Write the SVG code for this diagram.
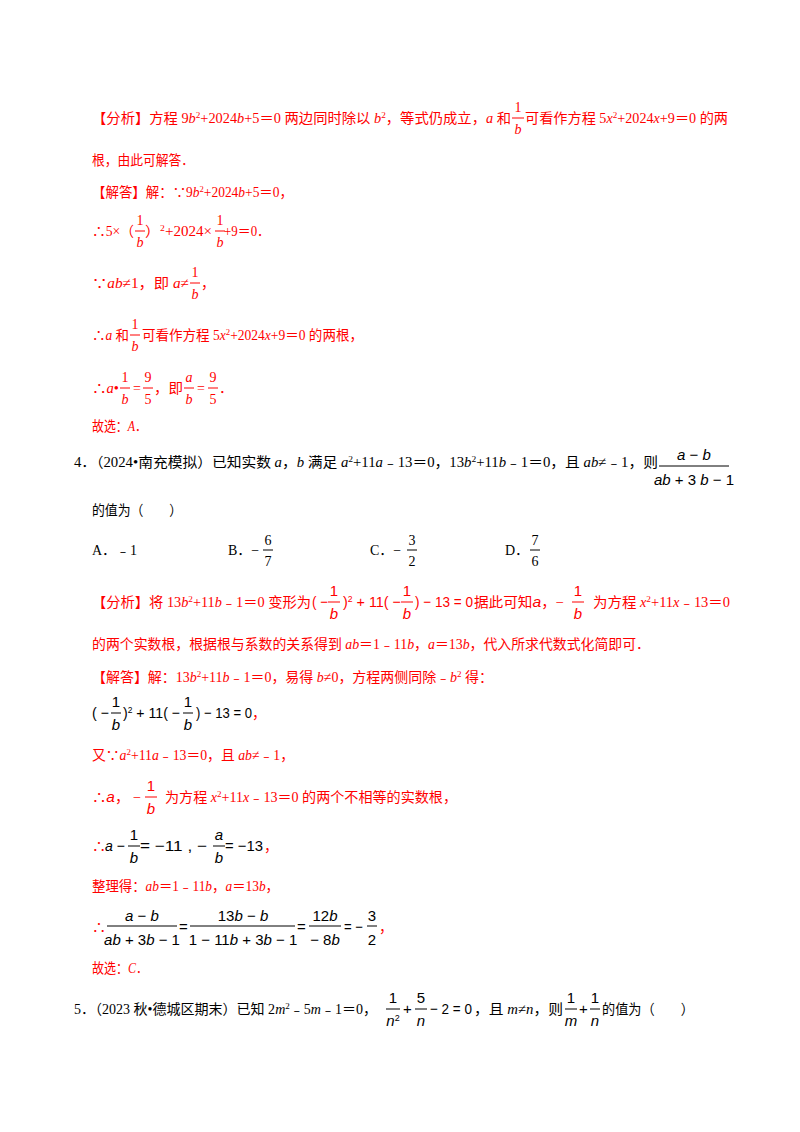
<svg xmlns="http://www.w3.org/2000/svg" width="800" height="1132" viewBox="0 0 800 1132">
<style>
text{font-family:"Liberation Serif","Noto Sans CJK SC",serif;font-size:14px;fill:#000}
.r{fill:#f00}
.i{font-style:italic}
.s{font-size:9px;baseline-shift:super}
.c{text-anchor:middle}
.f{stroke:#000;stroke-width:1}
.fr{stroke:#f00;stroke-width:1}
.m{font-family:"Liberation Sans","Noto Sans CJK SC",sans-serif;font-size:15px}
</style>
<rect width="800" height="1132" fill="#fff"/>
<g id="analysis3">
<text class="r" x="92" y="123" textLength="419" lengthAdjust="spacingAndGlyphs">【分析】方程 9<tspan class="i">b</tspan><tspan class="s">2</tspan>+2024<tspan class="i">b</tspan>+5＝0 两边同时除以 <tspan class="i">b</tspan><tspan class="s">2</tspan>，等式仍成立，<tspan class="i">a</tspan> 和</text>
<text class="r c" x="518" y="112">1</text><line class="fr" x1="512" y1="118" x2="524" y2="118"/><text class="r c i" x="518" y="134">b</text>
<text class="r" x="525" y="123" textLength="203" lengthAdjust="spacingAndGlyphs">可看作方程 5<tspan class="i">x</tspan><tspan class="s">2</tspan>+2024<tspan class="i">x</tspan>+9＝0 的两</text>
<text class="r" x="92" y="165" textLength="102" lengthAdjust="spacingAndGlyphs">根，由此可解答．</text>
<text class="r" x="92" y="197" textLength="201" lengthAdjust="spacingAndGlyphs">【解答】解：∵9<tspan class="i">b</tspan><tspan class="s">2</tspan>+2024<tspan class="i">b</tspan>+5＝0，</text>
<text class="r" x="92" y="236" textLength="42" lengthAdjust="spacingAndGlyphs">∴5×（</text>
<text class="r c" x="140" y="225">1</text><line class="fr" x1="135" y1="231" x2="145" y2="231"/><text class="r c i" x="140" y="247">b</text>
<text class="r" x="145" y="236" textLength="67" lengthAdjust="spacingAndGlyphs">）<tspan class="s">2</tspan>+2024×</text>
<text class="r c" x="220" y="225">1</text><line class="fr" x1="215" y1="231" x2="225" y2="231"/><text class="r c i" x="220" y="247">b</text>
<text class="r" x="224" y="236" textLength="46" lengthAdjust="spacingAndGlyphs">+9＝0．</text>
<text class="r" x="92" y="288" textLength="97" lengthAdjust="spacingAndGlyphs">∵<tspan class="i">ab</tspan>≠1，即 <tspan class="i">a</tspan>≠</text>
<text class="r c" x="195" y="277">1</text><line class="fr" x1="190" y1="283" x2="200" y2="283"/><text class="r c i" x="195" y="299">b</text>
<text class="r" x="201" y="288">，</text>
<text class="r" x="92" y="340" textLength="37" lengthAdjust="spacingAndGlyphs">∴<tspan class="i">a</tspan> 和</text>
<text class="r c" x="135" y="329">1</text><line class="fr" x1="130" y1="335" x2="140" y2="335"/><text class="r c i" x="135" y="351">b</text>
<text class="r" x="142" y="340" textLength="221" lengthAdjust="spacingAndGlyphs">可看作方程 5<tspan class="i">x</tspan><tspan class="s">2</tspan>+2024<tspan class="i">x</tspan>+9＝0 的两根，</text>
<text class="r" x="92" y="393" textLength="27" lengthAdjust="spacingAndGlyphs">∴<tspan class="i">a</tspan>•</text>
<text class="r c" x="125" y="382">1</text><line class="fr" x1="120" y1="388" x2="130" y2="388"/><text class="r c i" x="125" y="404">b</text>
<text class="r" x="133" y="393">=</text>
<text class="r c" x="148" y="382">9</text><line class="fr" x1="143" y1="388" x2="153" y2="388"/><text class="r c" x="148" y="404">5</text>
<text class="r" x="154" y="393" textLength="29" lengthAdjust="spacingAndGlyphs">，即</text>
<text class="r c i" x="189" y="382">a</text><line class="fr" x1="184" y1="388" x2="194" y2="388"/><text class="r c i" x="189" y="404">b</text>
<text class="r" x="197" y="393">=</text>
<text class="r c" x="213" y="382">9</text><line class="fr" x1="208" y1="388" x2="218" y2="388"/><text class="r c" x="213" y="404">5</text>
<text class="r" x="219" y="393">．</text>
<text class="r" x="92" y="431" textLength="55" lengthAdjust="spacingAndGlyphs">故选：<tspan class="i">A</tspan>．</text>
</g>
<g id="question4">
<text x="74" y="467" textLength="584" lengthAdjust="spacingAndGlyphs">4．（2024•南充模拟）已知实数 <tspan class="i">a</tspan>，<tspan class="i">b</tspan> 满足 <tspan class="i">a</tspan><tspan class="s">2</tspan>+11<tspan class="i">a</tspan>﹣13＝0，13<tspan class="i">b</tspan><tspan class="s">2</tspan>+11<tspan class="i">b</tspan>﹣1＝0，且 <tspan class="i">ab</tspan>≠﹣1，则</text>
<text class="m c" x="694" y="460"><tspan class="i">a</tspan> − <tspan class="i">b</tspan></text><line class="f" x1="659" y1="466" x2="729" y2="466"/><text class="m c" x="694" y="485"><tspan class="i">ab</tspan> + 3 <tspan class="i">b</tspan> − 1</text>
<text x="92" y="515" textLength="90" lengthAdjust="spacingAndGlyphs">的值为（　　）</text>
<text x="92" y="555">A．﹣1</text>
<text x="228" y="555">B．−</text>
<text class="c" x="268" y="545">6</text><line class="f" x1="263" y1="550" x2="273" y2="550"/><text class="c" x="268" y="566">7</text>
<text x="370" y="555">C．−</text>
<text class="c" x="412" y="545">3</text><line class="f" x1="407" y1="550" x2="417" y2="550"/><text class="c" x="412" y="566">2</text>
<text x="505" y="555">D．</text>
<text class="c" x="535" y="545">7</text><line class="f" x1="530" y1="550" x2="540" y2="550"/><text class="c" x="535" y="566">6</text>
</g>
<g id="analysis4">
<text class="r" x="92" y="607" textLength="219" lengthAdjust="spacingAndGlyphs">【分析】将 13<tspan class="i">b</tspan><tspan class="s">2</tspan>+11<tspan class="i">b</tspan>﹣1＝0 变形为</text>
<text class="r m" x="312" y="607" textLength="16" lengthAdjust="spacingAndGlyphs">( −</text>
<text class="r m c" x="334" y="596">1</text><line class="fr" x1="328" y1="602" x2="340" y2="602"/><text class="r m c i" x="334" y="619">b</text>
<text class="r m" x="343" y="607" textLength="58" lengthAdjust="spacingAndGlyphs">)<tspan class="s">2</tspan> + 11( −</text>
<text class="r m c" x="407" y="596">1</text><line class="fr" x1="401" y1="602" x2="413" y2="602"/><text class="r m c i" x="407" y="619">b</text>
<text class="r m" x="415" y="607" textLength="58" lengthAdjust="spacingAndGlyphs">) − 13 = 0</text>
<text class="r" x="474" y="607" textLength="90" lengthAdjust="spacingAndGlyphs">据此可知<tspan class="m i">a</tspan>，−</text>
<text class="r m c" x="578" y="596">1</text><line class="fr" x1="572" y1="602" x2="584" y2="602"/><text class="r m c i" x="578" y="619">b</text>
<text class="r" x="593" y="607" textLength="137" lengthAdjust="spacingAndGlyphs">为方程 <tspan class="i">x</tspan><tspan class="s">2</tspan>+11<tspan class="i">x</tspan>﹣13＝0</text>
<text class="r" x="92" y="649" textLength="558" lengthAdjust="spacingAndGlyphs">的两个实数根，根据根与系数的关系得到 <tspan class="i">ab</tspan>＝1﹣11<tspan class="i">b</tspan>，<tspan class="i">a</tspan>＝13<tspan class="i">b</tspan>，代入所求代数式化简即可．</text>
<text class="r" x="92" y="682" textLength="401" lengthAdjust="spacingAndGlyphs">【解答】解：13<tspan class="i">b</tspan><tspan class="s">2</tspan>+11<tspan class="i">b</tspan>﹣1＝0，易得 <tspan class="i">b</tspan>≠0，方程两侧同除﹣<tspan class="i">b</tspan><tspan class="s">2</tspan> 得：</text>
<text class="m" x="92" y="718" textLength="17" lengthAdjust="spacingAndGlyphs">( −</text>
<text class="m c" x="116" y="707">1</text><line class="f" x1="111" y1="713" x2="121" y2="713"/><text class="m c i" x="116" y="730">b</text>
<text class="m" x="123" y="718" textLength="57" lengthAdjust="spacingAndGlyphs">)<tspan class="s">2</tspan> + 11( −</text>
<text class="m c" x="188" y="707">1</text><line class="f" x1="183" y1="713" x2="193" y2="713"/><text class="m c i" x="188" y="730">b</text>
<text class="m" x="196" y="718" textLength="56" lengthAdjust="spacingAndGlyphs">) − 13 = 0</text>
<text class="r" x="252" y="718">，</text>
<text class="r" x="92" y="760" textLength="202" lengthAdjust="spacingAndGlyphs">又∵<tspan class="i">a</tspan><tspan class="s">2</tspan>+11<tspan class="i">a</tspan>﹣13＝0，且 <tspan class="i">ab</tspan>≠﹣1，</text>
<text class="r" x="92" y="802" textLength="49" lengthAdjust="spacingAndGlyphs">∴<tspan class="m i">a</tspan>， −</text>
<text class="r m c" x="151" y="791">1</text><line class="fr" x1="145" y1="797" x2="157" y2="797"/><text class="r m c i" x="151" y="814">b</text>
<text class="r" x="165" y="802" textLength="292" lengthAdjust="spacingAndGlyphs">为方程 <tspan class="i">x</tspan><tspan class="s">2</tspan>+11<tspan class="i">x</tspan>﹣13＝0 的两个不相等的实数根，</text>
<text class="r" x="92" y="851">∴</text>
<text class="m" x="105" y="851" textLength="20" lengthAdjust="spacingAndGlyphs"><tspan class="i">a</tspan> −</text>
<text class="m c" x="134" y="840">1</text><line class="f" x1="128" y1="846" x2="140" y2="846"/><text class="m c i" x="134" y="863">b</text>
<text class="m" x="140" y="851" textLength="67" lengthAdjust="spacingAndGlyphs">= −11 ,  −</text>
<text class="m c i" x="219" y="840">a</text><line class="f" x1="213" y1="846" x2="225" y2="846"/><text class="m c i" x="219" y="863">b</text>
<text class="m" x="225" y="851" textLength="38" lengthAdjust="spacingAndGlyphs">= −13</text>
<text class="r" x="264" y="851">，</text>
<text class="r" x="92" y="891" textLength="187" lengthAdjust="spacingAndGlyphs">整理得：<tspan class="i">ab</tspan>＝1﹣11<tspan class="i">b</tspan>，<tspan class="i">a</tspan>＝13<tspan class="i">b</tspan>，</text>
<text class="r" x="92" y="932">∴</text>
<text class="m c" x="142" y="921"><tspan class="i">a</tspan> − <tspan class="i">b</tspan></text><line class="f" x1="107" y1="926" x2="177" y2="926"/><text class="m c" x="142" y="945"><tspan class="i">ab</tspan> + 3<tspan class="i">b</tspan> − 1</text>
<text class="m" x="179" y="932">=</text>
<text class="m c" x="243" y="921">13<tspan class="i">b</tspan> − <tspan class="i">b</tspan></text><line class="f" x1="190" y1="926" x2="295" y2="926"/><text class="m c" x="243" y="945">1 − 11<tspan class="i">b</tspan> + 3<tspan class="i">b</tspan> − 1</text>
<text class="m" x="297" y="932">=</text>
<text class="m c" x="325" y="921">12<tspan class="i">b</tspan></text><line class="f" x1="309" y1="926" x2="341" y2="926"/><text class="m c" x="325" y="945">− 8<tspan class="i">b</tspan></text>
<text class="m" x="344" y="932" textLength="19" lengthAdjust="spacingAndGlyphs">= −</text>
<text class="m c" x="372" y="921">3</text><line class="f" x1="367" y1="926" x2="377" y2="926"/><text class="m c" x="372" y="945">2</text>
<text class="r" x="379" y="932">，</text>
<text class="r" x="92" y="973" textLength="56" lengthAdjust="spacingAndGlyphs">故选：<tspan class="i">C</tspan>．</text>
</g>
<g id="question5">
<text x="74" y="1014" textLength="303" lengthAdjust="spacingAndGlyphs">5．（2023 秋•德城区期末）已知 2<tspan class="i">m</tspan><tspan class="s">2</tspan>﹣5<tspan class="i">m</tspan>﹣1＝0，</text>
<text class="m c" x="393" y="1003">1</text><line class="f" x1="386" y1="1009" x2="400" y2="1009"/><text class="m c" x="393" y="1026"><tspan class="i">n</tspan><tspan class="s">2</tspan></text>
<text class="m" x="403" y="1014">+</text>
<text class="m c" x="421" y="1003">5</text><line class="f" x1="415" y1="1009" x2="427" y2="1009"/><text class="m c" x="421" y="1026"><tspan class="i">n</tspan></text>
<text class="m" x="430" y="1014" textLength="42" lengthAdjust="spacingAndGlyphs">− 2 = 0</text>
<text x="474" y="1014" textLength="89" lengthAdjust="spacingAndGlyphs">，且 <tspan class="i">m</tspan>≠<tspan class="i">n</tspan>，则</text>
<text class="m c" x="571" y="1003">1</text><line class="f" x1="565" y1="1009" x2="577" y2="1009"/><text class="m c i" x="571" y="1026">m</text>
<text class="m" x="579" y="1014">+</text>
<text class="m c" x="595" y="1003">1</text><line class="f" x1="590" y1="1009" x2="600" y2="1009"/><text class="m c i" x="595" y="1026">n</text>
<text x="602" y="1014" textLength="92" lengthAdjust="spacingAndGlyphs">的值为（　　）</text>
</g>
</svg>
